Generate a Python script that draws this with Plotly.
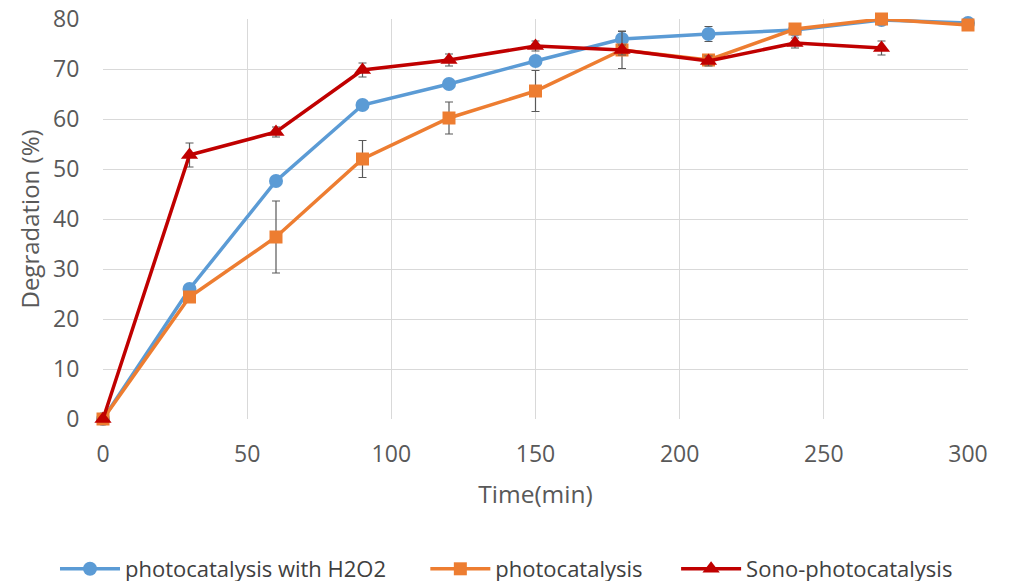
import plotly.graph_objects as go

time_min = [0, 30, 60, 90, 120, 150, 180, 210, 240, 270, 300]
h2o2 = [0, 26.0, 47.6, 62.8, 67.0, 71.6, 76.0, 77.0, 77.8, 79.8, 79.2]
h2o2_err = [0, 0.5, 0.5, 0.5, 0.5, 0.5, 1.6, 1.5, 0.5, 0.5, 0.5]
photo = [0, 24.4, 36.4, 52.0, 60.2, 65.6, 73.8, 71.8, 78.0, 80.0, 78.8]
photo_err = [0, 0.8, 7.2, 3.7, 3.2, 4.1, 3.7, 1.0, 0.8, 0.5, 0.5]
sono_time = [0, 30, 60, 90, 120, 150, 180, 210, 240, 270]
sono = [0, 52.8, 57.4, 69.8, 71.8, 74.6, 73.8, 71.6, 75.2, 74.2]
sono_err = [0, 2.4, 1.0, 1.4, 1.2, 1.0, 1.0, 1.0, 1.0, 1.4]
x_ticks = [0, 50, 100, 150, 200, 250, 300]
y_ticks = [0, 10, 20, 30, 40, 50, 60, 70, 80]

NB = "\u00a0"
font_family = "Open Sans, Lato, sans-serif"
err_style = dict(type="data", thickness=1.2, width=4, color="#595959")

fig = go.Figure()
fig.add_trace(go.Scatter(
    x=time_min, y=h2o2, name="photocatalysis with H2O2" + NB * 6, mode="lines+markers",
    line=dict(color="#5B9BD5", width=3.5),
    marker=dict(symbol="circle", size=14, color="#5B9BD5"),
    error_y=dict(array=h2o2_err, **err_style), cliponaxis=False))
fig.add_trace(go.Scatter(
    x=time_min, y=photo, name="photocatalysis" + NB * 5, mode="lines+markers",
    line=dict(color="#ED7D31", width=3.5),
    marker=dict(symbol="square", size=13, color="#ED7D31"),
    error_y=dict(array=photo_err, **err_style), cliponaxis=False))
fig.add_trace(go.Scatter(
    x=sono_time, y=sono, name="Sono-photocatalysis", mode="lines+markers",
    line=dict(color="#C00000", width=3.5),
    marker=dict(symbol="triangle-up", size=15, color="#C00000"),
    error_y=dict(array=sono_err, **err_style), cliponaxis=False))

fig.update_layout(
    width=1011, height=581,
    margin=dict(l=103, r=43, t=19, b=162, autoexpand=False),
    paper_bgcolor="white", plot_bgcolor="white",
    font=dict(family=font_family, color="#595959", size=16),
    showlegend=True,
    legend=dict(orientation="h", x=-0.0555, xanchor="left",
                y=-0.3225, yanchor="top",
                font=dict(size=22, color="#404040"), tracegroupgap=0,
                itemwidth=60),
    xaxis=dict(range=[0, 300], tickmode="array", tickvals=x_ticks,
               showgrid=True, gridcolor="#D9D9D9", gridwidth=1,
               zeroline=False, showline=False, ticks="outside", ticklen=14,
               tickcolor="rgba(0,0,0,0)", automargin=False,
               title=dict(text="Time(min)", font=dict(size=24.5, color="#595959"), standoff=18),
               tickfont=dict(size=23)),
    yaxis=dict(range=[0, 80], tickmode="array", tickvals=y_ticks,
               showgrid=True, gridcolor="#D9D9D9", gridwidth=1,
               zeroline=False, showline=False, ticks="outside", ticklen=18,
               tickcolor="rgba(0,0,0,0)", automargin=False,
               title=dict(text="Degradation (%)", font=dict(size=24, color="#595959"), standoff=6),
               tickfont=dict(size=23)),
)
fig.write_html("out.html", config={"displayModeBar": False},
               post_script="document.body.style.margin='0';")
